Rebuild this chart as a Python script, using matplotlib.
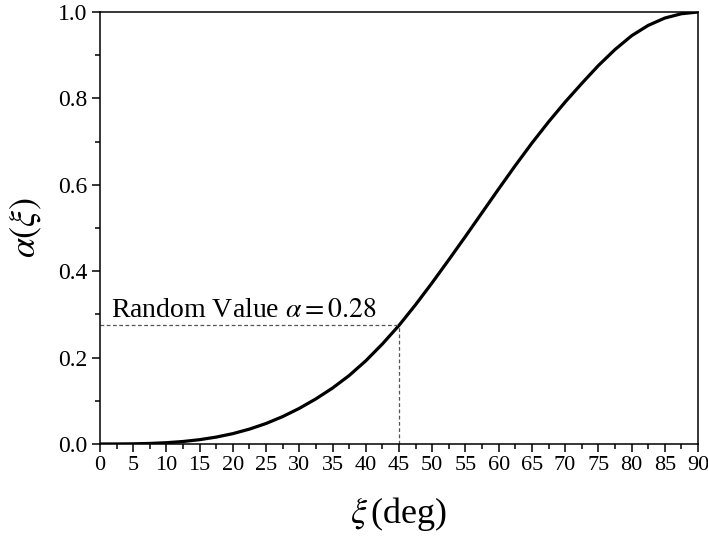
import numpy as np
import matplotlib.pyplot as plt
from matplotlib.ticker import MultipleLocator

plt.rcParams['font.family'] = ['Liberation Serif', 'DejaVu Serif']
plt.rcParams['mathtext.fontset'] = 'stix'

# values (every 2.5 deg)
xi_deg = [0, 2.5, 5, 7.5, 10, 12.5, 15, 17.5, 20, 22.5, 25, 27.5, 30, 32.5, 35, 37.5,
          40, 42.5, 45, 47.5, 50, 52.5, 55, 57.5, 60, 62.5, 65, 67.5, 70, 72.5,
          75, 77.5, 80, 82.5, 85, 87.5, 90]
alpha = [0.0, 0.0001, 0.0004, 0.0013, 0.003, 0.0058, 0.010, 0.016, 0.024, 0.0345,
         0.0475, 0.0635, 0.0825, 0.1045, 0.1295, 0.1585, 0.1925, 0.2315, 0.2745,
         0.3225, 0.3735, 0.4265, 0.4805, 0.5355, 0.5905, 0.6445, 0.6965, 0.7455,
         0.7915, 0.8345, 0.876, 0.913, 0.945, 0.969, 0.986, 0.996, 1.0]

xi_mark = 45
alpha_mark = 0.275
mark_label = r'Random Value $\alpha = 0.28$'

fig = plt.figure(figsize=(7.08, 5.41), dpi=100)
ax = fig.add_axes([0.1412, 0.1793, 0.8447, 0.7985])

ax.plot(xi_deg, alpha, color='black', lw=2.3, solid_joinstyle='round')

# dashed guide lines
ax.plot([0, xi_mark], [alpha_mark, alpha_mark], ls=(0, (3, 2)), color='#555555', lw=0.9)
ax.plot([xi_mark, xi_mark], [0, alpha_mark], ls=(0, (3, 2)), color='#555555', lw=0.9)
ax.text(1.6, alpha_mark + 0.006, mark_label, fontsize=20, va='bottom', ha='left')

ax.set_xlim(0, 90)
ax.set_ylim(0, 1.0)
ax.xaxis.set_major_locator(MultipleLocator(5))
ax.xaxis.set_minor_locator(MultipleLocator(2.5))
ax.yaxis.set_major_locator(MultipleLocator(0.2))
ax.yaxis.set_minor_locator(MultipleLocator(0.1))
ax.yaxis.set_major_formatter(plt.FormatStrFormatter('%.1f'))

ax.tick_params(which='both', direction='out', top=False, right=False, width=1.1)
ax.tick_params(axis='y', labelsize=17)
ax.tick_params(axis='x', labelsize=16)
ax.tick_params(which='major', length=6, pad=3)
ax.tick_params(which='minor', length=3.5)
for s in ax.spines.values():
    s.set_linewidth(1.1)

ax.set_xlabel(r'$\xi\,$(deg)', fontsize=26, labelpad=14)
ax.set_ylabel(r'$\alpha(\xi)$', fontsize=26, labelpad=10)

fig.savefig('out.png', dpi=100)
